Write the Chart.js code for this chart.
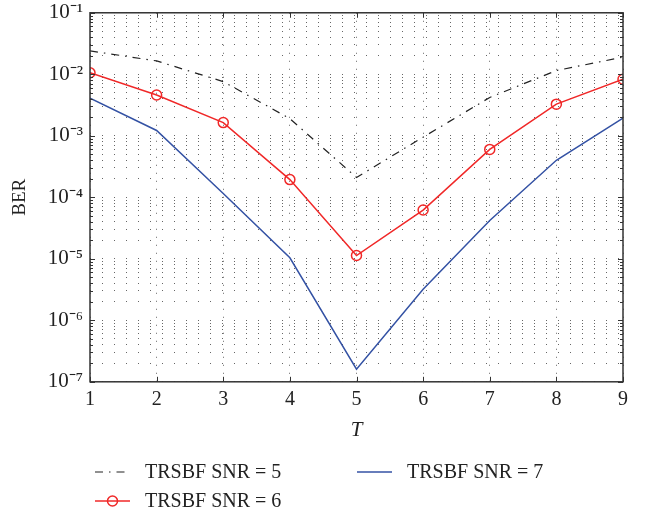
<!DOCTYPE html>
<html>
<head>
<meta charset="utf-8">
<script src="https://cdn.jsdelivr.net/npm/chart.js@4"></script>
<style>
  html, body { margin: 0; padding: 0; background: #fff; }
  #wrap { width: 650px; height: 511px; }
</style>
</head>
<body>
<div id="wrap"><canvas id="grafico" width="650" height="511"></canvas></div>
<script>
// dados
const tValores = [1, 2, 3, 4, 5, 6, 7, 8, 9];
const berSnr5 = [2.4e-2, 1.65e-2, 7.6e-3, 1.9e-3, 2.1e-4, 9.5e-4, 4.2e-3, 1.15e-2, 1.9e-2];
const berSnr6 = [1.06e-2, 4.6e-3, 1.64e-3, 1.94e-4, 1.13e-5, 6.2e-5, 6.0e-4, 3.27e-3, 8.3e-3];
const berSnr7 = [4.1e-3, 1.22e-3, 1.15e-4, 1.04e-5, 1.6e-7, 3.2e-6, 4.2e-5, 4.0e-4, 1.94e-3];
const rotulos = ['TRSBF SNR = 5', 'TRSBF SNR = 6', 'TRSBF SNR = 7'];
const expoentes = [-7, -6, -5, -4, -3, -2, -1];

const fonte = "'Liberation Serif', 'Times New Roman', serif";
const sup = { '-': '\u207B', '0': '\u2070', '1': '\u00B9', '2': '\u00B2', '3': '\u00B3', '4': '\u2074',
              '5': '\u2075', '6': '\u2076', '7': '\u2077', '8': '\u2078', '9': '\u2079' };

function potencia(v) {
    const e = Math.log10(v);
    if (Math.abs(e - Math.round(e)) > 1e-9) return '';
    return '10' + String(Math.round(e)).split('').map(c => sup[c]).join('');
}

// caixa + marcas internas estilo matlab
const caixa = {
    id: 'caixa',
    afterDatasetsDraw(chart) {
        const { ctx, chartArea: a, scales } = chart;
        ctx.save();
        ctx.strokeStyle = '#333';
        ctx.lineWidth = 1;
        ctx.beginPath();
        tValores.forEach(t => {
            const x = Math.round(scales.x.getPixelForValue(t)) + 0.5;
            ctx.moveTo(x, a.bottom); ctx.lineTo(x, a.bottom - 5);
            ctx.moveTo(x, a.top); ctx.lineTo(x, a.top + 5);
        });
        scales.y.ticks.forEach(tk => {
            const y = Math.round(scales.y.getPixelForValue(tk.value)) + 0.5;
            const len = potencia(tk.value) ? 5 : 3;
            ctx.moveTo(a.left, y); ctx.lineTo(a.left + len, y);
            ctx.moveTo(a.right, y); ctx.lineTo(a.right - len, y);
        });
        ctx.stroke();
        ctx.lineWidth = 1.5;
        ctx.strokeRect(a.left, a.top, a.right - a.left, a.bottom - a.top);
        ctx.restore();
    }
};

// legenda em duas colunas
const legenda = {
    id: 'legenda',
    afterDraw(chart) {
        const ctx = chart.ctx;
        const pos = [[95, 472], [95, 501], [357, 472]];
        ctx.save();
        ctx.font = '20px ' + fonte;
        ctx.textBaseline = 'middle';
        chart.data.datasets.forEach((ds, i) => {
            const [x, y] = pos[i];
            ctx.strokeStyle = ds.borderColor;
            ctx.lineWidth = ds.borderWidth;
            ctx.setLineDash(ds.borderDash || []);
            ctx.beginPath();
            ctx.moveTo(x, y); ctx.lineTo(x + 35, y);
            ctx.stroke();
            ctx.setLineDash([]);
            if (ds.pointRadius > 0) {
                ctx.beginPath();
                ctx.arc(x + 17.5, y, ds.pointRadius, 0, Math.PI * 2);
                ctx.stroke();
            }
            ctx.fillStyle = '#222';
            ctx.fillText(ds.label, x + 50, y + 1);
        });
        ctx.restore();
    }
};

new Chart(document.getElementById('grafico'), {
    type: 'line',
    data: {
        labels: tValores,
        datasets: [
            {
                label: rotulos[0],
                data: berSnr5,
                borderColor: '#222',
                borderWidth: 1.2,
                borderDash: [8, 6, 1.5, 6],
                pointRadius: 0,
                tension: 0
            },
            {
                label: rotulos[1],
                data: berSnr6,
                borderColor: '#f02828',
                borderWidth: 1.5,
                pointRadius: 5,
                pointStyle: 'circle',
                pointBorderWidth: 1.5,
                pointBackgroundColor: 'rgba(0,0,0,0)',
                tension: 0
            },
            {
                label: rotulos[2],
                data: berSnr7,
                borderColor: '#3452a4',
                borderWidth: 1.5,
                pointRadius: 0,
                tension: 0
            }
        ]
    },
    options: {
        responsive: false,
        animation: false,
        layout: { padding: { top: 0, right: 27, left: 0, bottom: 68 } },
        plugins: {
            legend: { display: false },
            tooltip: { enabled: false }
        },
        scales: {
            x: {
                type: 'linear',
                min: 1,
                max: 9,
                afterBuildTicks: s => { s.ticks = tValores.map(v => ({ value: v })); },
                grid: {
                    color: '#666',
                    lineWidth: 1,
                    drawTicks: false
                },
                border: { display: false, dash: [1, 7] },
                ticks: {
                    color: '#222',
                    padding: 6,
                    font: { family: fonte, size: 20 },
                    maxRotation: 0
                },
                title: {
                    display: true,
                    text: 'T',
                    color: '#222',
                    font: { family: fonte, size: 21, style: 'italic' },
                    padding: { top: 0, bottom: 0 }
                }
            },
            y: {
                type: 'logarithmic',
                min: 1e-7,
                max: 1e-1,
                afterBuildTicks: s => {
                    const t = [];
                    expoentes.forEach(e => {
                        for (let m = 1; m <= 9; m++) {
                            if (e === -1 && m > 1) break;
                            t.push({ value: m * Math.pow(10, e) });
                        }
                    });
                    s.ticks = t;
                },
                afterFit: s => { s.width = 90; },
                grid: {
                    color: '#666',
                    lineWidth: 1,
                    drawTicks: false
                },
                border: { display: false, dash: [1, 11] },
                ticks: {
                    color: '#222',
                    padding: 7,
                    autoSkip: false,
                    font: { family: fonte, size: 21, lineHeight: 0.55 },
                    callback: v => potencia(v)
                },
                title: {
                    display: true,
                    text: 'BER',
                    color: '#222',
                    font: { family: fonte, size: 19 },
                    padding: { top: 9, bottom: 0 }
                }
            }
        }
    },
    plugins: [caixa, legenda]
});
</script>
</body>
</html>
